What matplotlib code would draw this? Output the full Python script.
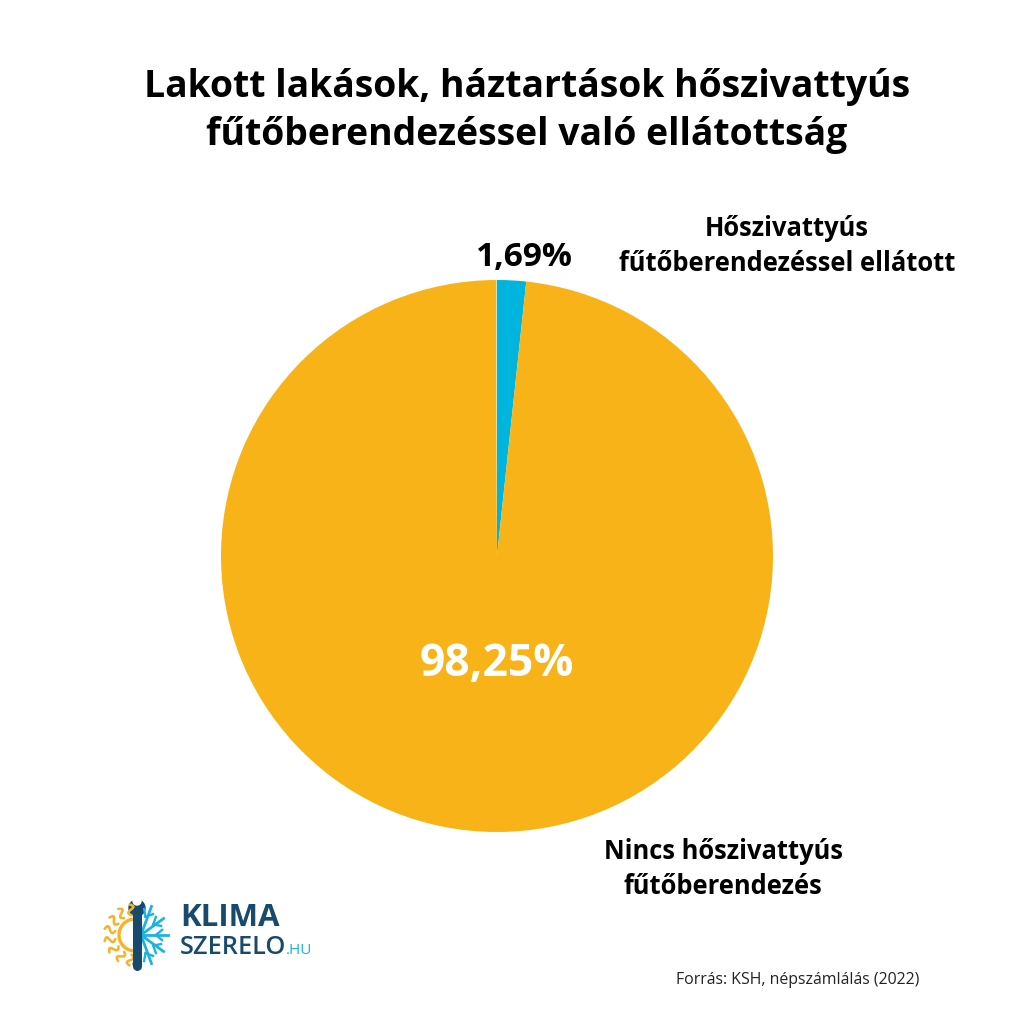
import numpy as np
import matplotlib.pyplot as plt
from matplotlib.patches import Arc, Circle

plt.rcParams['font.family'] = ['Open Sans', 'DejaVu Sans']

# data
labels = ['Hőszivattyús\nfűtőberendezéssel ellátott', 'Nincs hőszivattyús\nfűtőberendezés', 'Egyéb']
values = [1.69, 98.25, 0.06]
colors = ['#00B5DD', '#F8B319', '#CDE6C0']
pct_text = ['1,69%', '98,25%']

title = 'Lakott lakások, háztartások hőszivattyús\nfűtőberendezéssel való ellátottság'
source = 'Forrás: KSH, népszámlálás (2022)'

W = 1024
fig = plt.figure(figsize=(10.24, 10.24), dpi=100)
fig.patch.set_facecolor('white')

def fx(px):
    return px / W

def fy(py):
    return 1 - py / W

# pie
cx, cy, r = 497, 556, 276
ax = fig.add_axes([fx(cx - r), fy(cy + r), 2 * r / W, 2 * r / W])
ax.pie(values, colors=colors, startangle=90, counterclock=False, radius=1,
       wedgeprops=dict(linewidth=0))
ax.set_xlim(-1, 1)
ax.set_ylim(-1, 1)
ax.set_aspect('equal')
ax.axis('off')

fig.text(fx(527), fy(111), title, ha='center', va='center', fontsize=26.9,
         fontweight='bold', color='black', linespacing=1.35)

fig.text(fx(524), fy(258), pct_text[0], ha='center', va='center', fontsize=24,
         fontweight='bold', color='black')
fig.text(fx(497), fy(665), pct_text[1], ha='center', va='center', fontsize=32,
         fontweight='bold', color='white')

fig.text(fx(787), fy(246), labels[0], ha='center', va='center', fontsize=18.4,
         fontweight='bold', color='black', linespacing=1.35)
fig.text(fx(723), fy(869), labels[1], ha='center', va='center', fontsize=18.4,
         fontweight='bold', color='black', linespacing=1.35)

fig.text(fx(798), fy(980), source, ha='center', va='center', fontsize=11.4,
         color='#222222')

# logo
navy = '#184A6E'
lblue = '#1BB3E0'
orange = '#F7B325'
lx0, lx1, ly0, ly1 = 95, 330, 892, 975
lax = fig.add_axes([fx(lx0), fy(ly1), (lx1 - lx0) / W, (ly1 - ly0) / W])
lax.set_xlim(lx0, lx1)
lax.set_ylim(ly1, ly0)
lax.axis('off')

# sun (left half)
sc = (135, 935)
lax.add_patch(Arc(sc, 32, 32, theta1=90, theta2=270, color=orange, lw=2.4))
for a in np.linspace(100, 260, 8):
    t = np.linspace(0, 1, 12)
    rr = 20 + 11 * t
    ang = np.radians(a) + 0.12 * np.sin(t * np.pi * 2)
    lax.plot(sc[0] + rr * np.cos(ang), sc[1] - rr * np.sin(ang), color=orange, lw=1.8,
             solid_capstyle='round')

# snowflake (right half)
for a in [-60, -30, 0, 30, 60]:
    ang = np.radians(a)
    x1, y1 = sc[0] + 33 * np.cos(ang), sc[1] - 33 * np.sin(ang)
    lax.plot([sc[0] + 6, x1], [sc[1], y1], color=lblue, lw=2)
    mx, my = sc[0] + 21 * np.cos(ang), sc[1] - 21 * np.sin(ang)
    for d in [-0.7, 0.7]:
        lax.plot([mx, mx + 8 * np.cos(ang + d)], [my, my - 8 * np.sin(ang + d)],
                 color=lblue, lw=1.7)

# wrench
lax.plot([137, 137], [912, 966], color=navy, lw=6.5, solid_capstyle='round')
lax.add_patch(Circle((137, 908), 8, color=navy))
lax.add_patch(Circle((137, 901), 4, color='white'))
lax.add_patch(Circle((137, 964), 3.8, color=navy))

lax.text(180, 918, 'KLIMA', ha='left', va='center', fontsize=22.5, fontweight='bold',
         color=navy)
lax.text(180, 948, 'SZERELO', ha='left', va='center', fontsize=18.3,
         fontweight='semibold', color=navy)
lax.text(286, 951, '.HU', ha='left', va='center', fontsize=11, color=lblue)

fig.savefig('out.png', dpi=100, facecolor='white')
